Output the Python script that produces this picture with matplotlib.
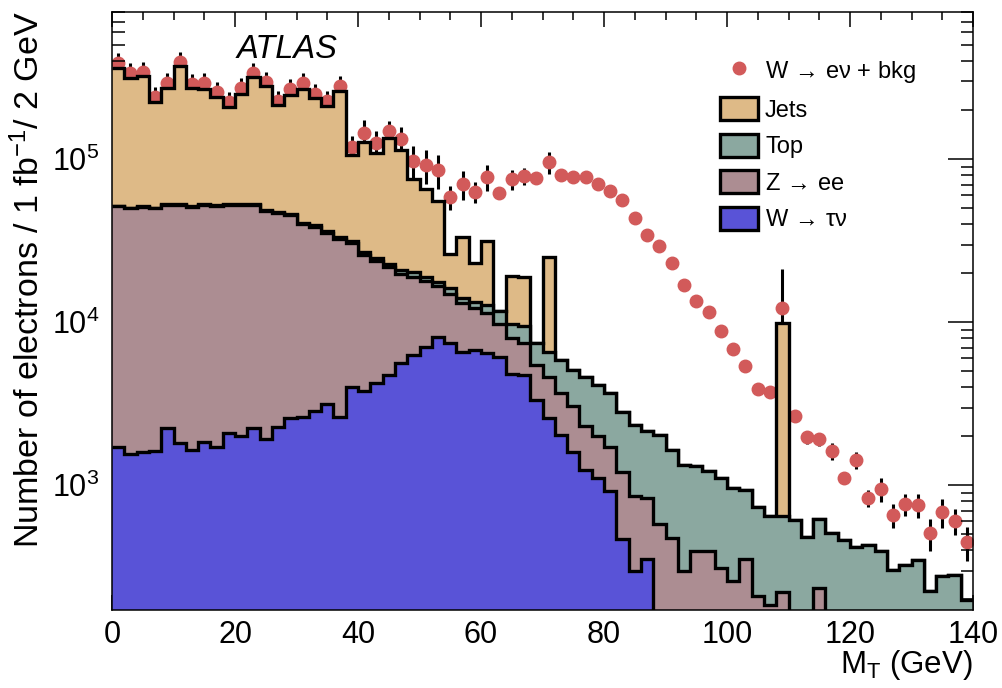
import numpy as np
import matplotlib
matplotlib.use('Agg')
from matplotlib import pyplot as plt
from matplotlib.patches import Patch
from matplotlib.lines import Line2D
from matplotlib.ticker import FixedLocator, LogLocator, MultipleLocator, NullFormatter

plt.rcParams['font.family'] = ['Liberation Sans', 'DejaVu Sans']
plt.rcParams['mathtext.fontset'] = 'custom'
plt.rcParams['mathtext.rm'] = 'Liberation Sans'
plt.rcParams['mathtext.it'] = 'Liberation Sans:italic'

# 2 GeV bins from 0 to 140 GeV
edges = np.arange(0, 142, 2)

w_tau = [1725, 1556, 1594, 1631, 2256, 1810, 1647, 1851, 1725, 2084,
         2015, 2256, 1915, 2288, 2576, 2636, 2857, 3140, 2636, 3993,
         3806, 4259, 4750, 5603, 6300, 7024, 8091, 7496, 6600, 6762,
         6508, 6099, 4817, 4750, 3337, 2576, 2035, 1607, 1241, 1104,
         927, 465, 300, 354, 0, 0, 0, 0, 0, 0,
         0, 0, 0, 0, 0, 0, 0, 0, 0, 0,
         0, 0, 0, 0, 0, 0, 0, 0, 0, 0]

z_ee = [49980, 48490, 49600, 48420, 50170, 50620, 49540, 50580, 49980, 50350,
        50420, 50170, 46260, 44740, 42940, 37460, 35730, 32310, 29660, 26790,
        22060, 19510, 16940, 14050, 12660, 10780, 8609, 7424, 6480, 5478,
        4847, 3664, 3162, 2746, 2133, 2042, 1647, 1459, 1070, 902,
        791, 741, 560, 482, 579, 472, 298, 395, 398, 313,
        259, 351, 209, 184, 222, 0, 0, 233, 0, 0,
        0, 0, 0, 0, 0, 0, 0, 0, 0, 0]

top = [240, 270, 310, 320, 370, 380, 430, 440, 490, 500,
       550, 560, 610, 630, 690, 710, 770, 790, 860, 890,
       968, 889, 1100, 1289, 1473, 1250, 1045, 1252, 957, 1140,
       1413, 1900, 1785, 1994, 1994, 1954, 2187, 2034, 2307, 2117,
       1967, 1591, 1484, 1318, 1456, 1175, 1043, 918, 826, 796,
       703, 585, 532, 464, 426, 612, 482, 384, 513, 462,
       418, 430, 393, 304, 324, 348, 225, 276, 282, 197]

jets = [309700, 263600, 274300, 175200, 219900, 320700, 221100, 216000, 189900, 157400,
        198500, 265500, 232900, 167700, 201800, 228100, 197400, 176100, 230500, 74600,
        101400, 84100, 111700, 93200, 55300, 46400, 37800, 9970, 19200, 9830,
        18900, 0, 9550, 9560, 0, 18600, 0, 0, 0, 0,
        0, 0, 0, 0, 0, 0, 0, 0, 0, 0,
        0, 0, 0, 0, 9254, 0, 0, 0, 0, 0,
        0, 0, 0, 0, 0, 0, 0, 0, 0, 0]

data = [388100, 337100, 344800, 240100, 292700, 397000, 289700, 292700, 259900, 225600,
        272700, 339900, 299400, 228800, 268900, 292700, 250500, 228800, 282800, 119500,
        144400, 125400, 149800, 132700, 98040, 91880, 85980, 58960, 70550, 63290,
        78200, 62400, 75390, 78970, 76460, 95850, 80100, 78200, 77540, 70550,
        64200, 56270, 43450, 34330, 29390, 23010, 16940, 13510, 11620, 8843,
        6859, 5394, 3914, 3752, 12190, 2662, 1970, 1915, 1631, 1113,
        1429, 839, 945, 657, 768, 757, 508, 689, 606, 451]

data_err = [58000, 50000, 52000, 36000, 44000, 60000, 43000, 44000, 39000, 34000,
            41000, 51000, 45000, 34000, 40000, 44000, 38000, 34000, 42000, 20000,
            29000, 23000, 22800, 25600, 23100, 21700, 20300, 9900, 14100, 9600,
            14500, 4600, 10300, 9500, 3000, 14600, 3400, 3400, 3300, 3000,
            2800, 2400, 1900, 1500, 1300, 1000, 730, 580, 500, 380,
            300, 230, 170, 160, 9000, 155, 173, 168, 196, 98,
            171, 101, 159, 110, 117, 127, 111, 139, 112, 106]

c_jets = '#DEBA87'
c_top = '#8BA8A0'
c_z = '#AC8D92'
c_w = '#5953D7'
c_data = '#D25A5A'

fig = plt.figure(figsize=(10.03, 6.88), dpi=100)
ax = fig.add_axes([0.1117, 0.1134, 0.8584, 0.8692])
ax.set_yscale('log')

centers = (edges[:-1] + edges[1:]) / 2
ax.errorbar(centers, data, yerr=data_err, fmt='o', color=c_data, ms=9,
            ecolor='black', elinewidth=2.2, capsize=0, zorder=1)

# stacked histograms, drawn from the total down
cum_w = np.array(w_tau, dtype=float)
cum_z = cum_w + np.array(z_ee)
cum_t = cum_z + np.array(top)
cum_j = cum_t + np.array(jets)
floor = 1.0
layers = [(cum_j, c_jets), (cum_t, c_top), (cum_z, c_z), (cum_w, c_w)]
for i, (vals, col) in enumerate(layers):
    v = np.clip(vals, floor, None)
    ax.stairs(v, edges, baseline=floor, fill=True, color=col, lw=0, zorder=2 + i)
    ax.stairs(v, edges, baseline=None, color='black', lw=2.4, zorder=2 + i)

ax.set_xlim(0, 140)
ax.set_ylim(171.8, 8.01e5)

ax.xaxis.set_major_locator(MultipleLocator(20))
ax.xaxis.set_minor_locator(MultipleLocator(5))
ax.yaxis.set_major_locator(FixedLocator([1e3, 1e4, 1e5]))
ax.set_yticklabels([r'$\mathregular{10^{3}}$', r'$\mathregular{10^{4}}$', r'$\mathregular{10^{5}}$'])
ax.yaxis.set_minor_locator(LogLocator(base=10, subs=np.arange(2, 10), numticks=20))
ax.yaxis.set_minor_formatter(NullFormatter())

ax.tick_params(which='both', direction='in', top=True, right=True, width=1.1, labelsize=22)
ax.tick_params(axis='x', which='major', length=11, pad=7)
ax.tick_params(axis='x', which='minor', length=5.5)
ax.tick_params(axis='y', which='major', length=18, pad=9)
ax.tick_params(axis='y', which='minor', length=9)
for s in ax.spines.values():
    s.set_linewidth(1.1)
    s.set_zorder(10)

fig.text(0.970, 0.033, r'$\mathregular{M_{T}}$ (GeV)', ha='right', va='center', fontsize=22.5)
fig.text(0.029, 0.983, r'Number of electrons / 1 fb$^{\mathregular{-1}}$/ 2 GeV',
         rotation=90, ha='center', va='top', fontsize=24.5)
fig.text(0.236, 0.928, 'ATLAS', style='italic', fontsize=23.5, ha='left', va='center')

handles = [Line2D([], [], marker='o', color=c_data, ls='none', ms=9),
           Patch(facecolor=c_jets, edgecolor='black', lw=2.4),
           Patch(facecolor=c_top, edgecolor='black', lw=2.4),
           Patch(facecolor=c_z, edgecolor='black', lw=2.4),
           Patch(facecolor=c_w, edgecolor='black', lw=2.4)]
labels = [r'W$\,{\rightarrow}\,$eν + bkg', 'Jets', 'Top',
          r'Z$\,{\rightarrow}\,$ee', r'W$\,{\rightarrow}\,$τν']
ax.legend(handles, labels, loc='upper left', bbox_to_anchor=(0.718, 0.915),
          bbox_transform=fig.transFigure, frameon=False, fontsize=17,
          borderpad=0, borderaxespad=0, handlelength=1.6, handleheight=1.15,
          handletextpad=0.3, labelspacing=0.5)

fig.savefig('out.png', dpi=100)
